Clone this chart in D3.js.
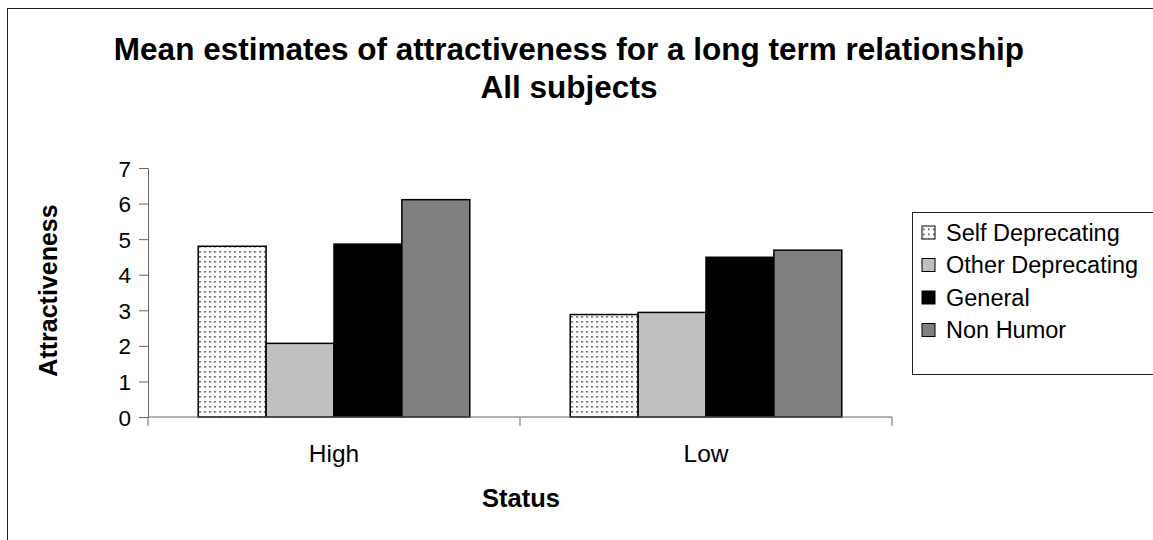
<!DOCTYPE html>
<html><head><meta charset="utf-8">
<script src="https://cdn.jsdelivr.net/npm/d3@7"></script>
<style>body{margin:0;background:#fff}svg{display:block;font-family:"Liberation Sans",Arial,sans-serif}</style>
</head><body>
<svg id="c" width="1153" height="540"></svg>
<script>
const categories = ["High", "Low"];
const seriesNames = ["Self Deprecating", "Other Deprecating", "General", "Non Humor"];
const selfDeprecating = [4.80, 2.88];
const otherDeprecating = [2.07, 2.94];
const general = [4.86, 4.49];
const nonHumor = [6.11, 4.69];
const yTicks = [0, 1, 2, 3, 4, 5, 6, 7];
const titleLines = ["Mean estimates of attractiveness for a long term relationship", "All subjects"];

(function () {
const seriesValues = [selfDeprecating, otherDeprecating, general, nonHumor];
const fills = ["url(#dots)", "#c0c0c0", "#000000", "#808080"];

const svg = d3.select("#c");
const defs = svg.append("defs");
const pat = defs.append("pattern").attr("id", "dots").attr("patternUnits", "userSpaceOnUse")
  .attr("width", 5).attr("height", 5);
pat.append("rect").attr("width", 5).attr("height", 5).attr("fill", "#fff");
pat.append("rect").attr("x", 1).attr("y", 1).attr("width", 1.6).attr("height", 1.6).attr("fill", "#444");

svg.append("rect").attr("x", 7.5).attr("y", 8.5).attr("width", 1160).attr("height", 560)
  .attr("fill", "none").attr("stroke", "#222").attr("stroke-width", 1);

const pLeft = 148, pRight = 892, pTop = 168, pBottom = 417;
const x0 = d3.scaleBand().domain(categories).range([pLeft, pRight]).paddingInner(0.27).paddingOuter(0.135);
const x1 = d3.scaleBand().domain(seriesNames).range([0, x0.bandwidth()]);
const y = d3.scaleLinear().domain([0, 7]).range([pBottom, pTop]);

svg.append("g").selectAll("text").data(titleLines).join("text")
  .attr("x", 569).attr("y", (d, i) => 59.5 + i * 38.7)
  .attr("text-anchor", "middle").attr("font-weight", "bold").attr("font-size", 31.5)
  .text(d => d);

const rows = categories.map((c, ci) => ({c, vals: seriesValues.map((s, si) => ({name: seriesNames[si], v: s[ci], f: fills[si]}))}));
const g = svg.append("g").selectAll("g").data(rows).join("g")
  .attr("transform", d => `translate(${x0(d.c)},0)`);
g.selectAll("rect").data(d => d.vals).join("rect")
  .attr("x", d => x1(d.name)).attr("width", x1.bandwidth())
  .attr("y", d => y(d.v)).attr("height", d => y(0) - y(d.v))
  .attr("fill", d => d.f).attr("stroke", "#000").attr("stroke-width", 1.5);

const yAxis = d3.axisLeft(y).tickValues(yTicks).tickSize(9).tickSizeOuter(0).tickFormat(d3.format("d"));
const ya = svg.append("g").attr("transform", `translate(${pLeft},0)`).call(yAxis);
ya.selectAll("path,line").attr("stroke", "#666");
ya.selectAll("text").attr("font-size", 22.5).attr("fill", "#000").attr("font-family", "Liberation Sans, Arial").attr("x", -17).attr("dy", "0.36em");

const xa = svg.append("g").attr("transform", `translate(0,${pBottom})`);
xa.append("line").attr("x1", pLeft).attr("x2", pRight).attr("stroke", "#666");
const xb = d3.scaleLinear().domain([0, categories.length]).range([pLeft, pRight]);
xa.selectAll("line.t").data(d3.range(categories.length + 1)).join("line").attr("class", "t")
  .attr("x1", d => xb(d)).attr("x2", d => xb(d)).attr("y1", 0).attr("y2", 9).attr("stroke", "#666");
xa.selectAll("text").data(categories).join("text")
  .attr("x", d => x0(d) + x0.bandwidth() / 2).attr("y", 45)
  .attr("text-anchor", "middle").attr("font-size", 24.5).text(d => d);

svg.append("text").attr("transform", "translate(57,290.5) rotate(-90)").attr("text-anchor", "middle")
  .attr("font-weight", "bold").attr("font-size", 25).text("Attractiveness");
svg.append("text").attr("x", 521).attr("y", 506.5).attr("text-anchor", "middle")
  .attr("font-weight", "bold").attr("font-size", 25.5).text("Status");

const lg = svg.append("g");
lg.append("rect").attr("x", 912.5).attr("y", 212.5).attr("width", 260).attr("height", 162)
  .attr("fill", "#fff").attr("stroke", "#222");
const li = lg.selectAll("g").data(seriesNames).join("g")
  .attr("transform", (d, i) => `translate(922,${232.5 + i * 32.5})`);
li.append("rect").attr("x", 0).attr("y", -6.5).attr("width", 13).attr("height", 13)
  .attr("fill", (d, i) => fills[i]).attr("stroke", "#000").attr("stroke-width", 1);
li.append("text").attr("x", 24).attr("y", 8).attr("font-size", 23.5).text(d => d);
})();
</script>
</body></html>
